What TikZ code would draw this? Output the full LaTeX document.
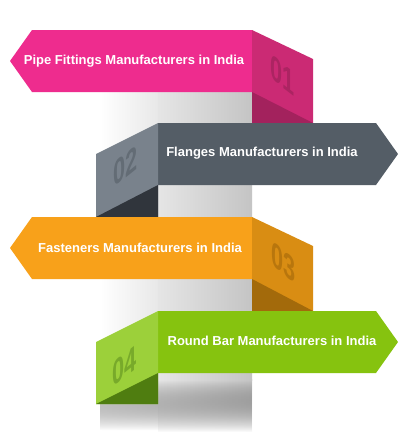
\documentclass[tikz,border=0pt]{standalone}
\usepackage{fontspec}
\setmainfont{Liberation Sans}
\usepackage{tikz}
\usetikzlibrary{fadings}
\definecolor{pinkfront}{HTML}{EE2C8E}
\definecolor{pinkside}{HTML}{CB2A74}
\definecolor{pinkdark}{HTML}{A3225D}
\definecolor{pinknum}{HTML}{AC2462}
\definecolor{slatefront}{HTML}{545D66}
\definecolor{slateside}{HTML}{79828C}
\definecolor{slatedark}{HTML}{30353C}
\definecolor{slatenum}{HTML}{636C75}
\definecolor{orangefront}{HTML}{F8A11A}
\definecolor{orangeside}{HTML}{D98D13}
\definecolor{orangedark}{HTML}{A36A0B}
\definecolor{orangenum}{HTML}{B8760D}
\definecolor{greenfront}{HTML}{86C30F}
\definecolor{greenside}{HTML}{9CD03A}
\definecolor{greendark}{HTML}{4F7D10}
\definecolor{greennum}{HTML}{78AA2A}
\tikzfading[name=fadedown, top color=transparent!0, bottom color=transparent!100]

\begin{document}
\begin{tikzpicture}[
    x=1pt, y=-1pt,
    bandtext/.style={text=white, inner sep=0, font=\fontsize{13}{15}\selectfont\bfseries},
    numtext/.style={inner sep=0, xscale=0.62, font=\fontsize{35}{35}\selectfont\bfseries}]
\useasboundingbox[fill=white] (0,0) rectangle (412,437);

% column and its shadow
\fill[left color=white, right color=black!9] (100,92) rectangle (158,380);
\fill[left color=white, right color=black!9, path fading=fadedown] (100,380) rectangle (158,430);
\fill[left color=black!10, right color=black!23] (158,92) rectangle (252,380);
\fill[left color=black!10, right color=black!23, path fading=fadedown] (158,380) rectangle (252,432);

% 01
\fill[pinkfront] (10,61) -- (32,30) -- (252,30) -- (252,92) -- (32,92) -- cycle;
\fill[pinkside] (252,30) -- (313,59) -- (313,123) -- (252,123) -- cycle;
\fill[pinkdark] (252,92) -- (313,123) -- (252,123) -- cycle;
\node[bandtext] (pipe) at (134,61) {Pipe Fittings Manufacturers in India};
\node[numtext, text=pinknum, yslant=-0.48] (n01) at (283,75) {01};

% 02
\fill[slatefront] (398,154) -- (376,123) -- (158,123) -- (158,185) -- (376,185) -- cycle;
\fill[slateside] (158,123) -- (96,154) -- (96,217) -- (158,217) -- cycle;
\fill[slatedark] (158,185) -- (158,217) -- (96,217) -- cycle;
\node[bandtext] (flange) at (262,153) {Flanges Manufacturers in India};
\node[numtext, text=slatenum, yslant=0.5] (n02) at (126,166) {02};

% 03
\fill[orangefront] (10,248) -- (32,217) -- (252,217) -- (252,279) -- (32,279) -- cycle;
\fill[orangeside] (252,217) -- (313,246) -- (313,311) -- (252,311) -- cycle;
\fill[orangedark] (252,279) -- (313,311) -- (252,311) -- cycle;
\node[bandtext] (fastener) at (140,248) {Fasteners Manufacturers in India};
\node[numtext, text=orangenum, yslant=-0.48] (n03) at (284,262) {03};

% 04
\fill[greenfront] (398,342) -- (376,311) -- (158,311) -- (158,373) -- (376,373) -- cycle;
\fill[greenside] (158,311) -- (96,342) -- (96,404) -- (158,404) -- cycle;
\fill[greendark] (158,373) -- (158,404) -- (96,404) -- cycle;
\node[bandtext] (roundbar) at (272,341) {Round Bar Manufacturers in India};
\node[numtext, text=greennum, yslant=0.5] (n04) at (125,366) {04};

\end{tikzpicture}
\end{document}
